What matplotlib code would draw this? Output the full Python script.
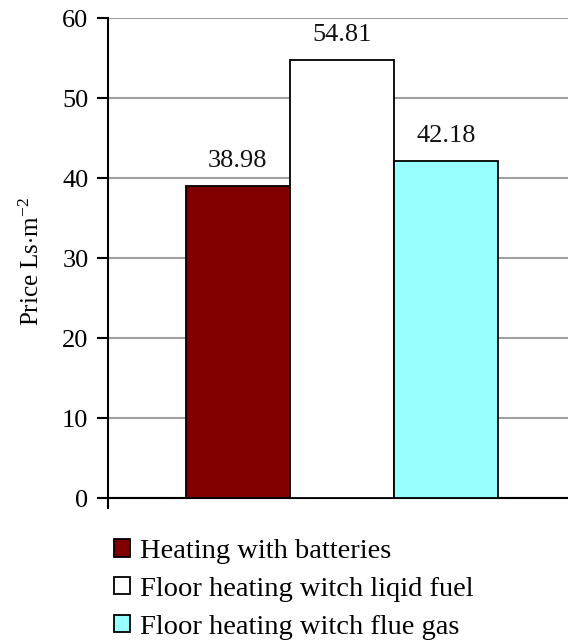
import matplotlib
matplotlib.use("Agg")
import matplotlib.pyplot as plt

plt.rcParams['font.family'] = ['Liberation Serif', 'DejaVu Serif']
plt.rcParams['mathtext.fontset'] = 'custom'
plt.rcParams['mathtext.rm'] = 'Liberation Serif'
plt.rcParams['mathtext.it'] = 'Liberation Serif:italic'

# data
labels = ["Heating with batteries", "Floor heating witch liqid fuel", "Floor heating witch flue gas"]
values = [38.98, 54.81, 42.18]
colors = ["#800000", "#ffffff", "#99ffff"]
yticks = [0, 10, 20, 30, 40, 50, 60]

fig = plt.figure(figsize=(5.68, 6.44), dpi=100)
ax = fig.add_axes([0.190, 0.2267, 0.81, 0.7453])

bars = []
for i in range(len(values)):
    b = ax.bar(i, values[i], width=1.0, color=colors[i], edgecolor="black",
               linewidth=1.3, label=labels[i], zorder=3)
    ax.bar_label(b, labels=["%.2f" % values[i]], padding=10, fontsize=19, color="#111111")
    bars.append(b)

ax.set_ylim(0, 60)
ax.set_xlim(-1.245, 3.17)
ax.set_yticks(yticks)
ax.yaxis.grid(True, color="#a0a0a0", linewidth=1.5, zorder=0)
ax.set_axisbelow(True)
ax.set_xticks([-1.245])
ax.set_xticklabels([""])
ax.tick_params(axis="y", labelsize=19, length=8, width=1.5, pad=6)
ax.tick_params(axis="x", length=8, width=1.5)
for s in ["top", "right"]:
    ax.spines[s].set_visible(False)
ax.spines["left"].set_linewidth(1.5)
ax.spines["bottom"].set_linewidth(1.5)

fig.text(32 / 568, 1 - 262 / 644, r"Price Ls$\cdot$m$^{-2}$", rotation=90,
         fontsize=18, ha="center", va="center")

fig.legend(handles=bars, labels=labels, loc="upper left",
           bbox_to_anchor=(114 / 568, 1 - 539 / 644), frameon=False,
           fontsize=20.5, handlelength=0.55, handleheight=0.55,
           handletextpad=0.35, labelspacing=0.45, borderpad=0, borderaxespad=0)

fig.savefig("out.png", dpi=100)
